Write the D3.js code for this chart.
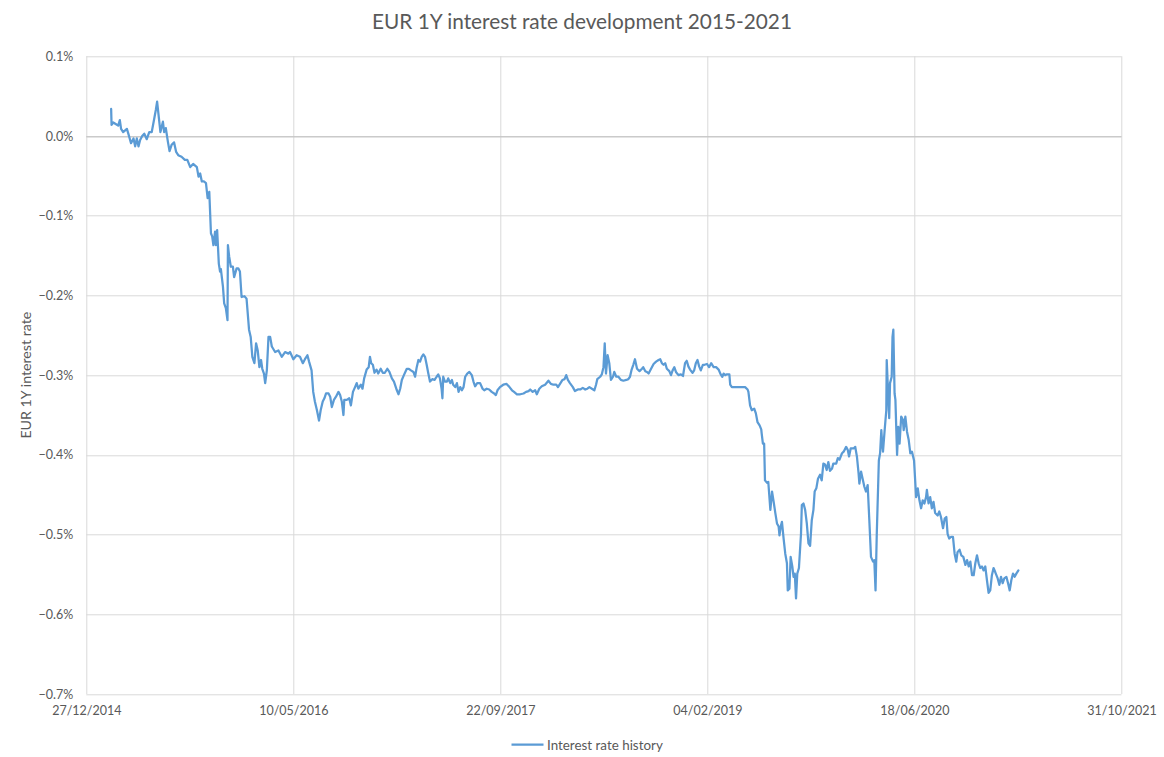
<!DOCTYPE html>
<html lang="en">

<head>
    <meta charset="utf-8">
    <title>EUR 1Y interest rate</title>
    <script src="https://d3js.org/d3.v7.min.js"></script>
    <style>
        body { margin: 0; background: #fff; }
        text { font-family: Lato, "Open Sans", sans-serif; fill: #595959; }
    </style>
</head>

<body>
    <div id="chart"></div>
    <script>

        // Excel date serials (42000 = 27/12/2014) and 1Y rate in percent
        var dateSerials = [
            42060, 42061, 42065, 42071, 42077, 42081, 42084, 42089, 42098, 42102,
            42108, 42114, 42118, 42122, 42126, 42130, 42135, 42140, 42146, 42152,
            42158, 42162, 42168, 42171, 42175, 42179, 42185, 42188, 42192, 42197,
            42201, 42206, 42212, 42217, 42222, 42230, 42238, 42244, 42251, 42258,
            42267, 42271, 42275, 42279, 42284, 42289, 42293, 42297, 42301, 42304,
            42307, 42311, 42313, 42316, 42320, 42323, 42325, 42330, 42333, 42337,
            42341, 42342, 42345, 42349, 42354, 42357, 42363, 42367, 42371, 42375,
            42382, 42387, 42393, 42397, 42401, 42406, 42410, 42414, 42418, 42422,
            42425, 42429, 42432, 42436, 42440, 42444, 42448, 42456, 42464, 42472,
            42480, 42488, 42492, 42500, 42508, 42516,
            42523, 42528, 42534, 42538, 42544, 42548, 42552, 42557, 42562, 42566,
            42571, 42575, 42579, 42585, 42589, 42593, 42598, 42603, 42609, 42613,
            42617, 42621, 42623, 42629, 42635, 42639, 42644, 42649, 42653, 42657,
            42663, 42667, 42671, 42677, 42682, 42685, 42688, 42692, 42696, 42701,
            42705, 42711, 42716, 42721, 42727, 42732, 42738, 42743, 42750, 42754,
            42758, 42762, 42767, 42774, 42779, 42784, 42790, 42794, 42798, 42802,
            42806, 42810, 42814, 42818, 42822, 42826, 42830, 42836, 42841, 42846,
            42850, 42854, 42858, 42860, 42862, 42866, 42871, 42874, 42879, 42883,
            42886, 42891, 42895, 42899, 42903, 42907, 42911, 42915, 42920, 42925,
            42931, 42935, 42939, 42944, 42951, 42957, 42961, 42967, 42973, 42979,
            42985, 42989, 42993, 42999, 43007, 43015, 43022, 43028, 43033, 43040,
            43048, 43056, 43062, 43068, 43072,
            43078, 43084, 43088, 43094, 43100, 43108, 43116, 43122, 43128, 43135,
            43139, 43144, 43150, 43155, 43159, 43163, 43168, 43175, 43180, 43187,
            43193, 43199, 43205, 43210, 43215, 43221, 43227, 43231, 43234, 43241,
            43245, 43249, 43252, 43255, 43259, 43263, 43267, 43272, 43275, 43280,
            43285, 43291, 43297, 43304, 43309, 43313, 43317, 43321, 43325, 43330,
            43336, 43342, 43345, 43350, 43354, 43358, 43363, 43370, 43376, 43382,
            43386, 43390, 43394, 43398, 43402, 43408, 43412, 43416, 43420, 43424,
            43430, 43436, 43441, 43446, 43450, 43454, 43458, 43464, 43468, 43472,
            43476, 43480, 43484, 43489, 43493, 43499, 43504, 43509, 43515, 43521,
            43527, 43532, 43536, 43539, 43543, 43547, 43553, 43555, 43559, 43567,
            43575, 43583, 43591, 43597, 43599, 43603, 43607, 43613, 43617, 43621,
            43626, 43630,
            43631, 43634, 43637, 43639, 43644, 43647, 43652, 43656, 43660, 43664,
            43668, 43672, 43674, 43677, 43680, 43684, 43688, 43692, 43694, 43698,
            43701, 43705, 43708, 43711, 43714, 43717, 43721, 43726, 43728, 43732,
            43736, 43740, 43744, 43748, 43752, 43756, 43759, 43763, 43767, 43772,
            43776, 43780, 43784, 43788, 43792, 43796, 43801, 43804, 43811, 43815,
            43819, 43825, 43829, 43835, 43839, 43842, 43846, 43853, 43857, 43861,
            43865, 43867, 43871, 43874, 43879, 43883, 43887, 43891, 43895, 43900,
            43903, 43906, 43909, 43912, 43914, 43917, 43920, 43922, 43924, 43928,
            43932, 43933, 43937, 43939, 43941, 43945, 43947, 43949, 43952, 43954,
            43958, 43961, 43964, 43968, 43972, 43974, 43978, 43982, 43986, 43990,
            43994, 43999, 44004, 44008, 44012, 44016, 44020, 44024, 44028, 44030,
            44034, 44038, 44042, 44046, 44050, 44056, 44060, 44064, 44069, 44073,
            44077, 44080, 44084, 44088, 44093, 44097, 44101, 44104, 44109, 44113,
            44118, 44123, 44127, 44131, 44135, 44139, 44143, 44147, 44151, 44155,
            44159, 44163, 44167, 44171, 44175, 44179, 44183, 44187, 44191, 44195,
            44201, 44205, 44209, 44213, 44217, 44222, 44226, 44230, 44234, 44238,
            44242, 44246, 44251
        ];

        var ratePct = [
            0.034, 0.014, 0.017, 0.015, 0.013, 0.020, 0.009, 0.005, 0.009, 0.002,
            -0.009, -0.003, -0.013, -0.003, -0.013, -0.005, 0.000, 0.003, -0.004, 0.005,
            0.005, 0.016, 0.033, 0.043, 0.024, 0.005, 0.018, 0.005, 0.010, -0.007,
            -0.019, -0.011, -0.008, -0.020, -0.024, -0.026, -0.030, -0.030, -0.039, -0.035,
            -0.039, -0.051, -0.047, -0.057, -0.057, -0.059, -0.078, -0.070, -0.122, -0.126,
            -0.137, -0.120, -0.137, -0.118, -0.160, -0.170, -0.167, -0.189, -0.210, -0.216,
            -0.231, -0.137, -0.151, -0.164, -0.164, -0.177, -0.166, -0.166, -0.170, -0.202,
            -0.201, -0.204, -0.243, -0.252, -0.277, -0.285, -0.260, -0.269, -0.290, -0.281,
            -0.292, -0.298, -0.310, -0.294, -0.252, -0.252, -0.264, -0.271, -0.269, -0.277,
            -0.271, -0.273, -0.271, -0.280, -0.275, -0.277,
            -0.285, -0.280, -0.275, -0.283, -0.294, -0.321, -0.333, -0.344, -0.357, -0.344,
            -0.333, -0.329, -0.323, -0.323, -0.327, -0.340, -0.331, -0.327, -0.321, -0.325,
            -0.333, -0.350, -0.331, -0.331, -0.329, -0.338, -0.321, -0.315, -0.310, -0.317,
            -0.312, -0.317, -0.304, -0.293, -0.290, -0.277, -0.285, -0.287, -0.297, -0.293,
            -0.298, -0.292, -0.297, -0.297, -0.292, -0.296, -0.304, -0.308, -0.319, -0.324,
            -0.317, -0.306, -0.300, -0.292, -0.292, -0.294, -0.296, -0.302, -0.290, -0.281,
            -0.283, -0.277, -0.274, -0.277, -0.287, -0.298, -0.308, -0.305, -0.306, -0.302,
            -0.299, -0.304, -0.317, -0.329, -0.302, -0.308, -0.308, -0.304, -0.310, -0.306,
            -0.312, -0.315, -0.310, -0.321, -0.315, -0.319, -0.315, -0.302, -0.298, -0.296,
            -0.300, -0.308, -0.314, -0.310, -0.310, -0.317, -0.319, -0.317, -0.318, -0.321,
            -0.323, -0.325, -0.319, -0.315, -0.312, -0.311, -0.315, -0.319, -0.321, -0.324,
            -0.324, -0.323, -0.321, -0.320, -0.318,
            -0.321, -0.319, -0.324, -0.317, -0.314, -0.312, -0.307, -0.311, -0.312, -0.312,
            -0.315, -0.311, -0.306, -0.305, -0.300, -0.306, -0.310, -0.315, -0.320, -0.318,
            -0.318, -0.316, -0.318, -0.317, -0.315, -0.317, -0.319, -0.312, -0.305, -0.302,
            -0.299, -0.290, -0.260, -0.298, -0.275, -0.285, -0.306, -0.302, -0.296, -0.302,
            -0.302, -0.306, -0.307, -0.306, -0.305, -0.302, -0.293, -0.287, -0.280, -0.292,
            -0.295, -0.292, -0.290, -0.295, -0.296, -0.298, -0.293, -0.286, -0.283, -0.281,
            -0.280, -0.285, -0.287, -0.285, -0.292, -0.295, -0.300, -0.294, -0.290, -0.296,
            -0.300, -0.299, -0.301, -0.285, -0.282, -0.289, -0.293, -0.297, -0.294, -0.285,
            -0.281, -0.289, -0.294, -0.287, -0.287, -0.286, -0.290, -0.285, -0.290, -0.290,
            -0.293, -0.299, -0.302, -0.298, -0.300, -0.299, -0.299, -0.312, -0.315, -0.315,
            -0.315, -0.315, -0.315, -0.318, -0.321, -0.338, -0.344, -0.342, -0.348, -0.359,
            -0.363, -0.368,
            -0.373, -0.386, -0.386, -0.432, -0.435, -0.434, -0.469, -0.446, -0.459, -0.473,
            -0.486, -0.490, -0.501, -0.490, -0.484, -0.505, -0.524, -0.536, -0.570, -0.568,
            -0.528, -0.540, -0.553, -0.549, -0.580, -0.549, -0.542, -0.499, -0.463, -0.461,
            -0.469, -0.486, -0.511, -0.514, -0.482, -0.469, -0.446, -0.442, -0.430, -0.425,
            -0.432, -0.411, -0.412, -0.419, -0.409, -0.420, -0.417, -0.411, -0.411, -0.404,
            -0.406, -0.398, -0.396, -0.390, -0.394, -0.402, -0.392, -0.392, -0.390, -0.402,
            -0.423, -0.436, -0.421, -0.428, -0.440, -0.446, -0.438, -0.482, -0.528, -0.534,
            -0.532, -0.570, -0.499, -0.444, -0.407, -0.398, -0.369, -0.386, -0.396, -0.369,
            -0.344, -0.281, -0.331, -0.354, -0.310, -0.302, -0.252, -0.243, -0.323, -0.331,
            -0.400, -0.365, -0.386, -0.352, -0.356, -0.369, -0.352, -0.371, -0.381, -0.398,
            -0.396, -0.407, -0.453, -0.442, -0.457, -0.467, -0.457, -0.461, -0.453, -0.444,
            -0.461, -0.453, -0.467, -0.459, -0.473, -0.476, -0.471, -0.478, -0.492, -0.480,
            -0.478, -0.499, -0.505, -0.503, -0.503, -0.524, -0.534, -0.522, -0.519, -0.526,
            -0.528, -0.538, -0.532, -0.540, -0.534, -0.551, -0.551, -0.536, -0.526, -0.536,
            -0.542, -0.540, -0.545, -0.540, -0.557, -0.573, -0.570, -0.551, -0.542, -0.547,
            -0.555, -0.563, -0.553, -0.561, -0.555, -0.553, -0.561, -0.570, -0.557, -0.549,
            -0.553, -0.549, -0.545
        ];

        var xTickSerials = [42000, 42500, 43000, 43500, 44000, 44500];
        var yTicks = [0.1, 0.0, -0.1, -0.2, -0.3, -0.4, -0.5, -0.6, -0.7];

        var chartTitle = "EUR 1Y interest rate development 2015-2021";
        var yTitle = "EUR 1Y interest rate";
        var seriesName = "Interest rate history";

        var W = 1164, H = 757;
        var margin = { top: 56.3, right: 42.5, bottom: 63, left: 86.3 },
            width = W - margin.left - margin.right,
            height = H - margin.top - margin.bottom;

        // Excel serial -> JS date (UTC)
        function serialToDate(s) {
            return new Date(Date.UTC(1899, 11, 30) + s * 864e5);
        }

        var data = dateSerials.map(function (s, i) {
            return { date: serialToDate(s), value: ratePct[i] };
        });

        var svg = d3.select("#chart")
            .append("svg")
            .attr("width", W)
            .attr("height", H);

        var g = svg.append("g")
            .attr("transform", "translate(" + margin.left + "," + margin.top + ")");

        var x = d3.scaleUtc()
            .domain([serialToDate(xTickSerials[0]), serialToDate(xTickSerials[xTickSerials.length - 1])])
            .range([0, width]);

        var y = d3.scaleLinear()
            .domain([-0.7, 0.1])
            .range([height, 0]);

        var tickDates = xTickSerials.map(serialToDate);
        var fmtDate = d3.utcFormat("%d/%m/%Y");

        // gridlines
        g.append("g")
            .selectAll("line")
            .data(yTicks)
            .enter()
            .append("line")
            .attr("x1", 0).attr("x2", width)
            .attr("y1", function (d) { return Math.round(y(d)) + 0.5; })
            .attr("y2", function (d) { return Math.round(y(d)) + 0.5; })
            .attr("stroke", "#d9d9d9")
            .attr("stroke-width", 1);

        g.append("g")
            .selectAll("line")
            .data(tickDates)
            .enter()
            .append("line")
            .attr("x1", function (d) { return Math.round(x(d)) + 0.5; })
            .attr("x2", function (d) { return Math.round(x(d)) + 0.5; })
            .attr("y1", 0).attr("y2", height)
            .attr("stroke", "#d9d9d9")
            .attr("stroke-width", 1);

        // horizontal axis line crosses at 0
        g.append("line")
            .attr("x1", 0).attr("x2", width)
            .attr("y1", Math.round(y(0)) + 0.5).attr("y2", Math.round(y(0)) + 0.5)
            .attr("stroke", "#bfbfbf")
            .attr("stroke-width", 1);

        // y axis labels
        var yAxis = g.append("g")
            .call(d3.axisLeft(y).tickValues(yTicks).tickSize(0).tickPadding(13)
                .tickFormat(function (d) { return d3.format(".1f")(d) + "%"; }));
        yAxis.select(".domain").remove();
        yAxis.selectAll("text")
            .style("font-size", "12.5px")
            .style("font-family", "Lato, sans-serif")
            .attr("fill", "#595959");

        // x axis labels, at the bottom of the plot
        var xAxis = g.append("g")
            .attr("transform", "translate(0," + height + ")")
            .call(d3.axisBottom(x).tickValues(tickDates).tickSize(0).tickPadding(12)
                .tickFormat(fmtDate));
        xAxis.select(".domain").remove();
        xAxis.selectAll("text")
            .style("font-size", "12.5px")
            .style("font-family", "Lato, sans-serif")
            .attr("fill", "#595959");

        // the series
        var line = d3.line()
            .x(function (d) { return x(d.date); })
            .y(function (d) { return y(d.value); });

        g.append("path")
            .datum(data)
            .attr("d", line)
            .attr("fill", "none")
            .attr("stroke", "#5b9bd5")
            .attr("stroke-width", 2.25)
            .attr("stroke-linejoin", "round")
            .attr("stroke-linecap", "round");

        // title
        svg.append("text")
            .attr("x", W / 2)
            .attr("y", 29)
            .attr("text-anchor", "middle")
            .style("font-size", "20.8px")
            .text(chartTitle);

        // y title
        svg.append("text")
            .attr("transform", "translate(31," + (margin.top + height / 2) + ") rotate(-90)")
            .attr("text-anchor", "middle")
            .style("font-size", "14.2px")
            .text(yTitle);

        // legend
        var legend = svg.append("g");
        legend.append("line")
            .attr("x1", 511.5).attr("x2", 543.5)
            .attr("y1", 744.5).attr("y2", 744.5)
            .attr("stroke", "#5b9bd5")
            .attr("stroke-width", 2.25);
        legend.append("text")
            .attr("x", 547)
            .attr("y", 749.5)
            .style("font-size", "13.4px")
            .text(seriesName);

    </script>
</body>

</html>
